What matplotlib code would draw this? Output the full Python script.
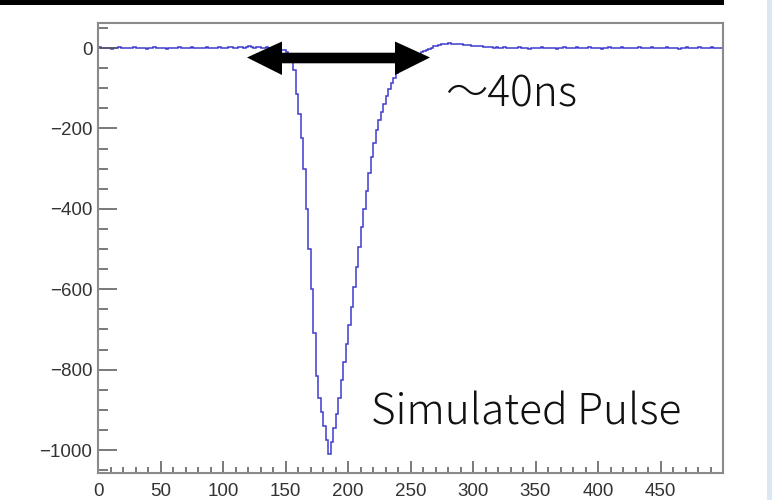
import numpy as np
import matplotlib
matplotlib.use("Agg")
import matplotlib.pyplot as plt
from matplotlib.patches import Polygon, Rectangle
from matplotlib.ticker import MultipleLocator

# Simulated PMT pulse, 2 ns bins from 0 to 500 ns (ADC counts per bin)
bin_width_ns = 2
baseline_before = [
    2, 0, -1, 1, 0, -2, 1, 0, 2, -1,
    0, 1, -1, 0, 2, 1, -1, 0, 1, -2,
    0, 1, 2, 0, -1, 1, 0, -2, 1, 0,
    -1, 1, 2, 0, 1, -1, 0, 2, 1, 0,
    -1, 0, 1, 2, 0, -1, 1, 0, 2, 1,
    0, 1, 3, 2, 1, 0, 2, 3, 1, 2,
    4, 2, 1, 3, 2, 0, 1, 2, 0, -1,
    0, -2,
]
pulse = [
    -3, -4, -6, -9, -15, -26, -55, -115, -165, -225,
    -300, -400, -500, -600, -710, -815, -870, -905, -940, -975,
    -1010, -980, -945, -910, -870, -825, -780, -735, -690, -645,
    -595, -545, -495, -445, -400, -355, -310, -270, -235, -205,
    -180, -158, -138, -120, -102, -87, -74, -63, -54, -46,
    -39, -33, -28, -24, -20, -17, -14, -11, -8, -5,
    -2, 1, 4, 6, 8, 9, 10, 11, 12, 11,
    11, 10, 10, 9, 8, 8, 7, 6, 6, 5,
    4,
]
baseline_after = [
    4, 3, 3, 2, 3, 1, 2, 1, 0, 2,
    1, 0, -1, 1, 0, 2, -1, 0, 1, -2,
    0, 1, 0, -1, 2, 1, -1, 0, 1, 0,
    -2, 1, 0, 2, -1, 0, 1, -1, 2, 0,
    -1, 0, 1, 2, 0, -1, 1, 0, -2, 1,
    0, 2, 1, -1, 0, 1, 2, 0, -1, 1,
    0, -1, 1, 2, 0, 1, -1, 0, 2, 1,
    0, -1, 1, 0, 2, -1, 0, 1, 0, -2,
    1, 0, 2, 1, -1, 0, 1, 2, 0, -1,
    1, 0, 2, 1, 0, 1, -1,
]
amplitude = np.array(baseline_before + pulse + baseline_after, dtype=float)
edges = np.arange(len(amplitude) + 1) * bin_width_ns

x_major_ticks = [0, 50, 100, 150, 200, 250, 300, 350, 400, 450]
y_major_ticks = [0, -200, -400, -600, -800, -1000]

W, H = 772, 500
fig = plt.figure(figsize=(W / 100, H / 100), dpi=100)
fig.patch.set_facecolor("white")


def fx(px):
    return px / W


def fy(py):
    return 1 - py / H


# slide decorations: dark title band and pale side strip
fig.patches.append(Rectangle((0, fy(5)), fx(724), 5 / H, transform=fig.transFigure,
                             facecolor="black", edgecolor="none", zorder=0))
fig.patches.append(Rectangle((fx(767), 0), fx(W - 767), 1, transform=fig.transFigure,
                             facecolor="#dde7f4", edgecolor="none", zorder=0))

ax = fig.add_axes([fx(98), fy(473), fx(723 - 98), (473 - 23.5) / H])
ax.stairs(amplitude, edges, baseline=None, color="#3c3cd0", linewidth=1.1)

ax.set_xlim(0, 500)
ax.set_ylim(-1057, 61)
ax.set_xticks(x_major_ticks)
ax.set_yticks(y_major_ticks)
ax.xaxis.set_minor_locator(MultipleLocator(10))
ax.yaxis.set_minor_locator(MultipleLocator(50))

for s in ax.spines.values():
    s.set_color("#8a8a8a")
    s.set_linewidth(1.5)

tick_family = ["Liberation Sans", "DejaVu Sans"]
ax.tick_params(axis="x", which="major", direction="in", length=8.6, width=1.1,
               color="#555555", labelcolor="#333333", pad=7, top=False)
ax.tick_params(axis="x", which="minor", direction="in", length=4.5, width=1.1,
               color="#555555", top=False)
ax.tick_params(axis="y", which="major", direction="in", length=13.7, width=1.1,
               color="#555555", labelcolor="#333333", pad=4, right=False)
ax.tick_params(axis="y", which="minor", direction="in", length=7.2, width=1.1,
               color="#555555", right=False)
for lab in ax.get_xticklabels() + ax.get_yticklabels():
    lab.set_fontfamily(tick_family)
    lab.set_fontsize(13.5)

# double-headed arrow marking the pulse width
arrow_px = [(247, 57.5), (282, 41.5), (282, 52.7), (395, 52.7), (395, 41.5),
            (430, 57.5), (395, 75), (395, 63.3), (282, 63.3), (282, 75)]
fig.patches.append(Polygon([(fx(a), fy(b)) for a, b in arrow_px], closed=True,
                           transform=fig.transFigure, facecolor="black",
                           edgecolor="none", zorder=5))

text_family = ["Noto Sans CJK JP", "DejaVu Sans"]
fig.text(fx(445), fy(95), "～40ns", fontsize=30.5, family=text_family,
         fontweight="light", ha="left", va="center", color="#111111")
fig.text(fx(371), fy(413), "Simulated Pulse", fontsize=30.5, family=text_family,
         fontweight="light", ha="left", va="center", color="#111111")

fig.savefig("out.png", dpi=100, facecolor=fig.get_facecolor())
